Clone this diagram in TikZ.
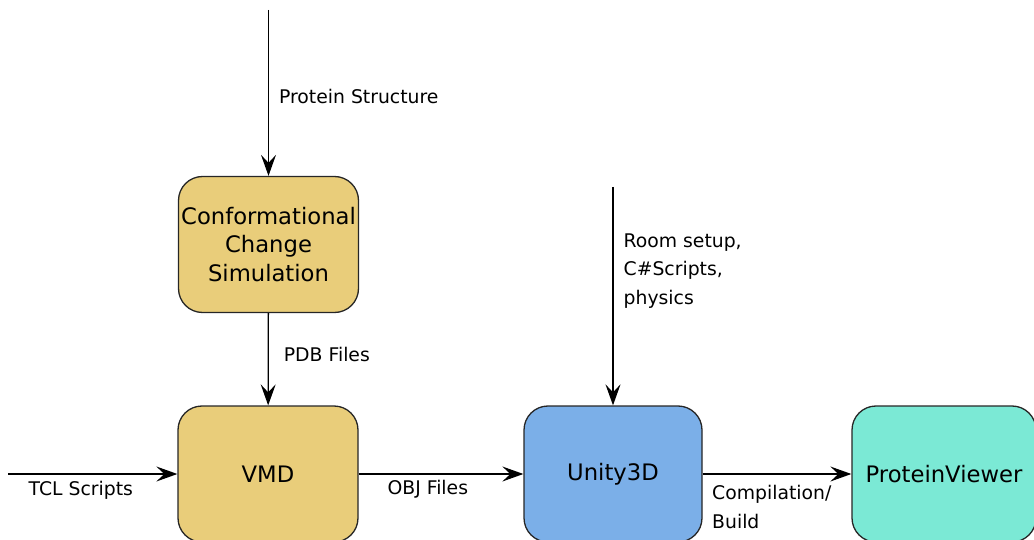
\documentclass[tikz,border=0pt]{standalone}
\usepackage{fontspec}
\setmainfont{DejaVu Sans}
\usetikzlibrary{%
  arrows.meta,%
  positioning,% wg. " of "
  calc
}
\definecolor{simgold}{HTML}{E9CD7A}
\definecolor{unityblue}{HTML}{7BAFE8}
\definecolor{viewerteal}{HTML}{7BE9D5}

\begin{document}
\begin{tikzpicture}
  [
  x=1pt, y=-1pt,
  line width=1.3pt, draw=black, >={Stealth[length=21pt,width=15pt,inset=8pt]},
  toolnode/.style={rectangle, rounded corners=24pt, minimum width=180pt, minimum height=136pt, inner sep=2pt, draw=black!85, line width=1.3pt, align=center, font=\fontsize{22.7}{28.5}\selectfont},
  flowlabel/.style={inner sep=0pt, align=left, font=\fontsize{18.8}{28.5}\selectfont},
  ]
  \useasboundingbox (0,0) rectangle (1034,540);

  \node[toolnode, fill=simgold] (sim) at (268.5,244.5) {Conformational\\Change\\Simulation};
  \node[toolnode, fill=simgold] (vmd) at (268,474) {VMD};
  \node[toolnode, fill=unityblue, minimum width=178pt] (unity) at (613,474) {Unity3D};
  \node[toolnode, fill=viewerteal, minimum width=184pt] (viewer) at (944,474) {ProteinViewer};

  \coordinate (pdbin) at (268.5,10);
  \coordinate (tclin) at (8,474);
  \coordinate (roomin) at (613,187);

  \draw[->] (pdbin) -- node[flowlabel, anchor=base west, pos=0.563, xshift=10pt] {Protein Structure} (sim);
  \draw[->] (sim) -- node[flowlabel, anchor=base west, pos=0.52, xshift=15pt] {PDB Files} (vmd);
  \draw[->] (tclin) -- node[flowlabel, anchor=base, pos=0.43, yshift=-21pt] {TCL Scripts} (vmd);
  \draw[->] (vmd) -- node[flowlabel, anchor=base, pos=0.42, yshift=-20pt] {OBJ Files} (unity);
  \draw[->] (roomin) -- node[flowlabel, anchor=north west, pos=0.21, xshift=10pt] {Room setup,\\C\#Scripts,\\physics} (unity);
  \draw[->] (unity) -- node[flowlabel, anchor=north west, pos=0.06, yshift=-11pt] {Compilation/\\Build} (viewer);

\end{tikzpicture}
\end{document}
